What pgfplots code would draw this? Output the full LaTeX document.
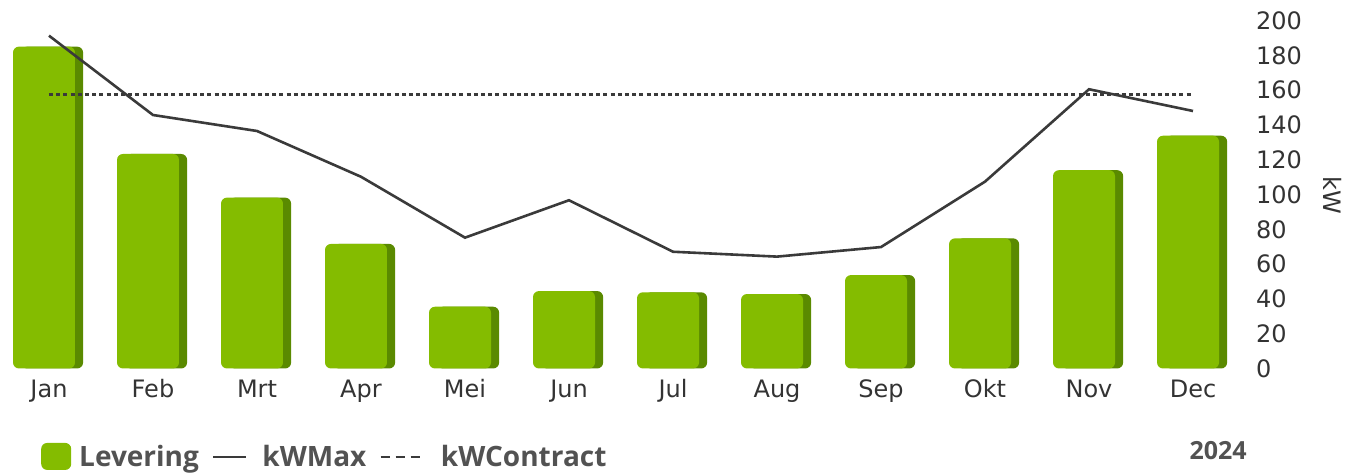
\documentclass[border=0pt]{standalone}
\usepackage{fontspec}
\setmainfont{DejaVu Sans}
\newfontfamily\legfont{Open Sans}
\usepackage{pgfplots}
\usepackage{pgfplotstable}
\pgfplotsset{compat=1.18}
\definecolor{facegreen}{HTML}{84BC00}
\definecolor{shadegreen}{HTML}{5A8A00}
\definecolor{txt}{HTML}{333333}
\definecolor{linec}{HTML}{3A3A3A}
\pgfplotstableread{
x lev kwmax kwc
0 185 191.3 157.6
1 123.3 145.7 157.6
2 98.2 136.5 157.6
3 71.6 110.2 157.6
4 35.5 75.2 157.6
5 44.5 96.7 157.6
6 43.8 67.1 157.6
7 42.8 64.3 157.6
8 53.7 69.8 157.6
9 74.8 107.4 157.6
10 114 160.5 157.6
11 133.8 148 157.6
}\data
\begin{document}
\begin{tikzpicture}
\begin{axis}[
  scale only axis,
  width=621.5pt, height=184.25pt,
  xmin=-0.471, xmax=11.48,
  ymin=0, ymax=211.8,
  clip=false,
  axis x line*=bottom, axis y line*=right,
  axis line style={draw=none},
  major tick length=0pt,
  xtick={0,...,11},
  xticklabels={Jan,Feb,Mrt,Apr,Mei,Jun,Jul,Aug,Sep,Okt,Nov,Dec},
  ytick={0,20,...,200},
  /pgf/number format/assume math mode=true,
  tick label style={font=\fontsize{12}{14}\selectfont, text=txt},
  xticklabel style={yshift=-2pt},
  yticklabel style={xshift=3pt},
  legend style={draw=none, fill=none, at={(rel axis cs:0.028,-0.24)}, anchor=west,
    font=\legfont\bfseries\fontsize{14}{16}\selectfont, text=txt!85!white,
    legend columns=-1, column sep=0pt},
  legend cell align=left,
  /tikz/every even column/.append style={column sep=4.5pt},
]
\addplot[ybar, bar width=0.596, bar shift=0.03, fill=shadegreen, draw=none, rounded corners=3pt, forget plot] table[x=x, y=lev] {\data};
\addplot[ybar, bar width=0.596, bar shift=-0.048, fill=facegreen, draw=none, rounded corners=3pt,
  legend image code/.code={\fill[facegreen] (0pt,-6.5pt) rectangle (15pt,7pt); \path (17pt,0pt);}] table[x=x, y=lev] {\data};
\addlegendentry{Levering}
\addplot[linec, line width=1.3pt, mark=none,
  legend image code/.code={\draw[linec, line width=1.2pt] (0pt,0pt) -- (16.5pt,0pt); \path (22pt,0pt);}] table[x=x, y=kwmax] {\data};
\addlegendentry{kWMax}
\addplot[linec, line width=1.4pt, mark=none, dash pattern=on 2pt off 1.6pt,
  legend image code/.code={\draw[linec, line width=1.2pt, dash pattern=on 4.5pt off 3pt] (0pt,0pt) -- (21.5pt,0pt); \path (27.5pt,0pt);}] table[x=x, y=kwc] {\data};
\addlegendentry{kWContract}
\node[font=\legfont\bfseries\fontsize{12.5}{14}\selectfont, text=txt!85!white] at (rel axis cs:0.980,-0.224) {2024};
\node[rotate=-90, font=\fontsize{12}{14}\selectfont, text=txt] at (rel axis cs:1.072,0.471) {kW};
\coordinate (bl) at (rel axis cs:0,-0.2836);
\coordinate (tr) at (rel axis cs:1.0821,1);
\end{axis}
\pgfresetboundingbox
\path (bl) rectangle (tr);
\end{tikzpicture}
\end{document}
